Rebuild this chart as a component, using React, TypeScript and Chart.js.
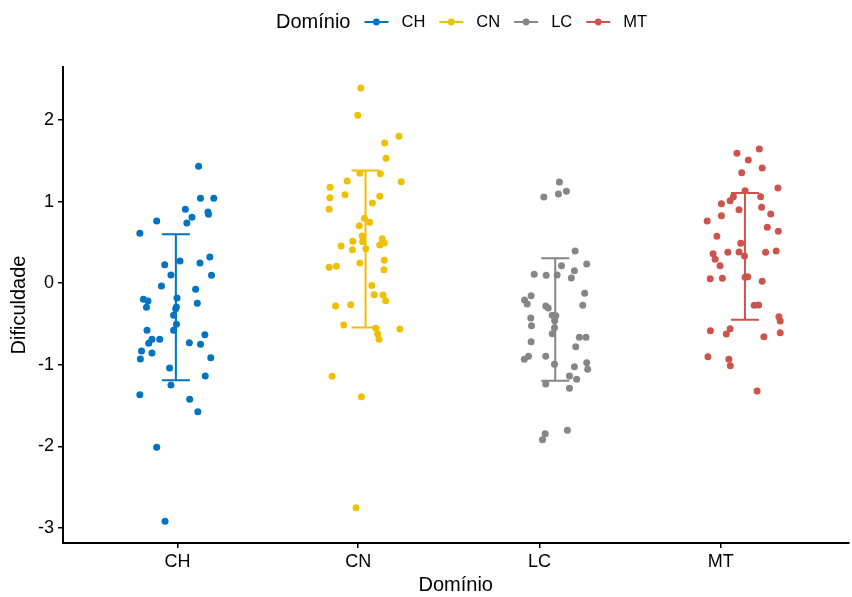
import React, { useEffect, useRef } from "react";
import { Chart, registerables } from "chart.js";

Chart.register(...registerables);

const categories = ["CH", "CN", "LC", "MT"];
const colors = ["#0073C2", "#EFC000", "#868686", "#CD534C"];
const legendTitle = "Domínio";
const xTitle = "Domínio";
const yTitle = "Dificuldade";
const yTicks = [-3, -2, -1, 0, 1, 2];
// positions at which the category labels sit on the x axis
const xTickPositions = [1.009, 1.961, 2.917, 3.873];

// horizontal jitter (in category units) and value for every point
const chJitter = [0.12, 0.13, 0.2, 0.05, 0.169, 0.172, 0.085, -0.101, 0.058, -0.19, 0.022, -0.059, 0.127, 0.179, -0.026, 0.188, -0.076, 0.104, 0.006, -0.171, -0.147, -0.155, 0.003, -0.001, 0.113, -0.012, 0.003, -0.152, -0.012, 0.153, -0.126, -0.085, 0.071, -0.143, 0.13, -0.181, -0.126, -0.187, 0.184, -0.033, 0.155, -0.026, -0.19, 0.073, 0.116, -0.101, -0.057];
const chValues = [1.433, 1.04, 1.04, 0.906, 0.873, 0.844, 0.808, 0.762, 0.738, 0.612, 0.272, 0.227, 0.248, 0.321, 0.1, 0.097, -0.034, -0.075, -0.181, -0.197, -0.218, -0.295, -0.292, -0.313, -0.246, -0.393, -0.504, -0.577, -0.577, -0.631, -0.688, -0.688, -0.729, -0.737, -0.749, -0.831, -0.855, -0.929, -0.913, -1.039, -1.137, -1.248, -1.366, -1.423, -1.575, -2.011, -2.918];

const cnJitter = [-0.025, -0.041, 0.176, 0.101, 0.108, -0.03, 0.078, 0.188, -0.097, -0.187, -0.188, -0.108, 0.075, 0.036, -0.192, -0.006, 0.022, -0.033, -0.018, -0.067, -0.015, 0.088, 0.099, 0.075, -0.129, -0.069, 0.001, 0.099, -0.03, -0.192, -0.153, 0.097, 0.033, 0.046, 0.092, 0.106, -0.158, -0.078, -0.115, 0.054, 0.064, 0.071, 0.181, -0.176, -0.022, -0.05];
const cnValues = [2.392, 2.058, 1.8, 1.718, 1.531, 1.347, 1.342, 1.244, 1.252, 1.175, 1.048, 1.085, 1.065, 0.983, 0.906, 0.795, 0.746, 0.705, 0.578, 0.513, 0.509, 0.545, 0.493, 0.468, 0.456, 0.411, 0.423, 0.281, 0.248, 0.195, 0.207, 0.165, -0.028, -0.141, -0.145, -0.214, -0.279, -0.263, -0.512, -0.553, -0.623, -0.688, -0.561, -1.141, -1.391, -2.751];

const lcJitter = [0.022, -0.06, 0.017, 0.059, 0.105, 0.166, 0.033, 0.101, -0.111, -0.048, 0.01, 0.085, -0.127, -0.162, -0.148, 0.155, -0.05, -0.037, 0.145, -0.016, 0.003, -0.129, -0.003, -0.125, -0.004, -0.016, -0.127, 0.127, 0.162, 0.108, -0.141, -0.163, -0.05, -0.004, 0.101, 0.166, 0.171, 0.075, 0.113, -0.05, 0.075, -0.053, -0.067, 0.064];
const lcValues = [1.24, 1.056, 1.093, 1.126, 0.395, 0.235, 0.214, 0.153, 0.109, 0.097, 0.1, 0.064, -0.153, -0.206, -0.255, -0.124, -0.279, -0.304, -0.271, -0.393, -0.398, -0.426, -0.46, -0.521, -0.545, -0.619, -0.717, -0.663, -0.663, -0.779, -0.896, -0.933, -0.896, -0.994, -1.023, -0.974, -1.055, -1.137, -1.178, -1.235, -1.288, -1.844, -1.918, -1.803];

const mtJitter = [0.076, -0.042, 0.018, 0.091, -0.017, 0.174, 0.001, -0.061, 0.083, -0.078, -0.124, 0.088, -0.031, 0.136, -0.124, -0.199, 0.118, 0.176, -0.148, -0.022, -0.168, -0.09, -0.031, -0.002, 0.109, 0.165, -0.157, -0.131, -0.183, -0.119, 0.001, 0.015, 0.091, 0.049, 0.072, 0.179, 0.186, -0.182, -0.078, -0.098, 0.1, 0.186, -0.195, -0.085, -0.077, 0.064];
const mtValues = [1.645, 1.592, 1.51, 1.412, 1.354, 1.167, 1.134, 1.06, 1.06, 1.011, 0.974, 0.93, 0.901, 0.848, 0.827, 0.762, 0.685, 0.636, 0.575, 0.489, 0.362, 0.379, 0.382, 0.333, 0.379, 0.395, 0.293, 0.214, 0.055, 0.06, 0.072, 0.08, 0.023, -0.271, -0.267, -0.411, -0.463, -0.582, -0.558, -0.623, -0.656, -0.607, -0.901, -0.933, -1.011, -1.321];

const groupMeans = [-0.295, 0.42, -0.445, 0.329];
const groupSds = [0.895, 0.962, 0.75, 0.776];

const jitters = [chJitter, cnJitter, lcJitter, mtJitter];
const values = [chValues, cnValues, lcValues, mtValues];

const FONT = "'Liberation Sans', Arial, sans-serif";

const errorBarPlugin = {
  id: "errorBars",
  afterDatasetsDraw(chart: any) {
    const { ctx, scales } = chart;
    const xs = scales.x;
    const ys = scales.y;
    const capHalf = 0.074;
    ctx.save();
    ctx.lineWidth = 2;
    groupMeans.forEach((m, i) => {
      const xc = xs.getPixelForValue(i + 1);
      const xl = xs.getPixelForValue(i + 1 - capHalf);
      const xr = xs.getPixelForValue(i + 1 + capHalf);
      const yl = ys.getPixelForValue(m - groupSds[i]);
      const yh = ys.getPixelForValue(m + groupSds[i]);
      ctx.strokeStyle = colors[i];
      ctx.beginPath();
      ctx.moveTo(xc, yl);
      ctx.lineTo(xc, yh);
      ctx.moveTo(xl, yl);
      ctx.lineTo(xr, yl);
      ctx.moveTo(xl, yh);
      ctx.lineTo(xr, yh);
      ctx.stroke();
    });
    ctx.restore();
  },
};

const legendPlugin = {
  id: "ggLegend",
  afterDraw(chart: any) {
    const { ctx } = chart;
    const cy = 22;
    ctx.save();
    ctx.textBaseline = "middle";
    ctx.fillStyle = "#000";
    ctx.font = `20px ${FONT}`;
    let x = 276;
    ctx.fillText(legendTitle, x, cy);
    x += ctx.measureText(legendTitle).width + 14;
    ctx.font = `16.5px ${FONT}`;
    categories.forEach((c, i) => {
      ctx.strokeStyle = colors[i];
      ctx.fillStyle = colors[i];
      ctx.lineWidth = 2;
      ctx.beginPath();
      ctx.moveTo(x, cy);
      ctx.lineTo(x + 24, cy);
      ctx.stroke();
      ctx.beginPath();
      ctx.arc(x + 12, cy, 3.4, 0, Math.PI * 2);
      ctx.fill();
      x += 24 + 13;
      ctx.fillStyle = "#000";
      ctx.fillText(c, x, cy);
      x += ctx.measureText(c).width + 14;
    });
    ctx.restore();
  },
};

export default function App() {
  const ref = useRef<HTMLCanvasElement | null>(null);
  useEffect(() => {
    if (!ref.current) return;
    const datasets = categories.map((c, i) => ({
      label: c,
      data: values[i].map((v, k) => ({ x: i + 1 + jitters[i][k], y: v })),
      backgroundColor: colors[i],
      borderColor: colors[i],
      borderWidth: 0,
      pointRadius: 3.5,
      pointHoverRadius: 3.5,
      showLine: false,
    }));
    const chart = new Chart(ref.current, {
      type: "scatter",
      data: { datasets },
      options: {
        animation: false,
        responsive: false,
        events: [],
        layout: { padding: { top: 67, right: 1, left: 0, bottom: 0 } },
        plugins: { legend: { display: false }, tooltip: { enabled: false } },
        scales: {
          x: {
            type: "linear",
            min: 0.405,
            max: 4.546,
            afterBuildTicks: (s: any) => {
              s.ticks = xTickPositions.map((v) => ({ value: v }));
            },
            afterFit: (s: any) => {
              s.height = 54;
            },
            ticks: {
              color: "#000",
              font: { family: FONT, size: 18 },
              padding: 3,
              callback: (_v: any, idx: number) => categories[idx] ?? "",
            },
            grid: { display: true, drawOnChartArea: false, drawTicks: true, tickLength: 5, color: "#000", lineWidth: 1.5 },
            border: { display: true, color: "#000", width: 2 },
            title: { display: true, text: xTitle, color: "#000", font: { family: FONT, size: 20 }, padding: { top: 0, bottom: 0 } },
          },
          y: {
            type: "linear",
            min: -3.184,
            max: 2.65,
            afterBuildTicks: (s: any) => {
              s.ticks = yTicks.map((v) => ({ value: v }));
            },
            afterFit: (s: any) => {
              s.width = 63;
            },
            ticks: {
              color: "#000",
              font: { family: FONT, size: 18 },
              padding: 4,
              callback: (v: any) => String(v),
            },
            grid: { display: true, drawOnChartArea: false, drawTicks: true, tickLength: 5, color: "#000", lineWidth: 1.5 },
            border: { display: true, color: "#000", width: 2 },
            title: { display: true, text: yTitle, color: "#000", font: { family: FONT, size: 20 }, padding: { top: 7, bottom: 0 } },
          },
        },
      },
      plugins: [errorBarPlugin, legendPlugin],
    });
    return () => chart.destroy();
  }, []);
  return (
    <div style={{ position: "fixed", left: 0, top: 0, width: 852, height: 597, background: "#fff" }}>
      <canvas ref={ref} width={852} height={597} style={{ display: "block" }} />
    </div>
  );
}
